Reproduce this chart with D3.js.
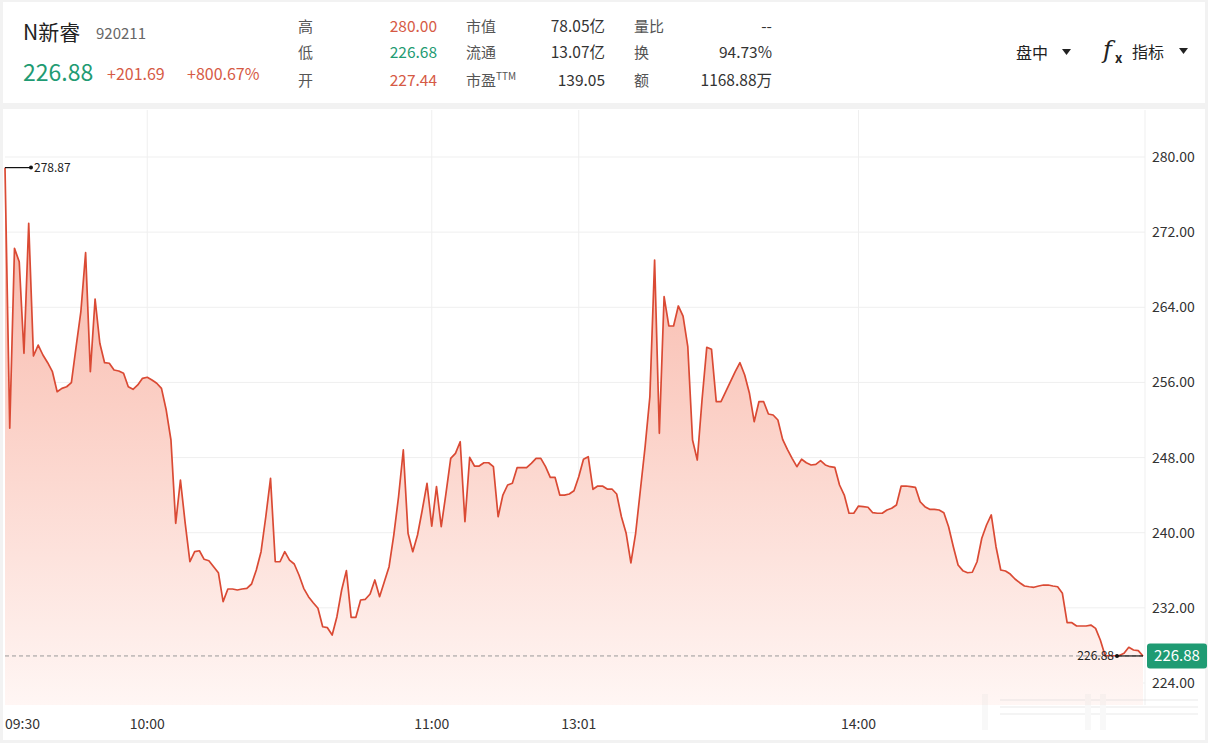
<!DOCTYPE html>
<html><head><meta charset="utf-8">
<script src="https://cdn.jsdelivr.net/npm/d3@7"></script>
<style>body{margin:0;background:#f2f2f2;overflow:hidden}svg{display:block}</style>
</head><body>
<svg id="c" width="1208" height="743"></svg>
<script>
// ---- data ----
const prices = [
278.87,251.12,270.28,268.85,259.10,272.94,258.81,259.98,258.92,258.10,
257.14,255.01,255.37,255.54,255.97,259.80,263.53,269.81,257.14,264.88,
260.17,258.10,258.04,257.32,257.22,256.97,255.54,255.27,255.73,256.44,
256.55,256.26,255.91,255.37,253.06,249.87,241.00,245.61,241.03,236.91,
237.98,238.08,237.17,237.02,236.38,235.74,232.66,234.01,234.01,233.90,
234.01,234.08,234.54,236.03,237.98,241.70,245.79,236.91,236.91,237.98,
237.09,236.67,235.50,234.08,233.19,232.55,231.95,229.99,229.89,229.11,
231.06,233.90,235.96,230.99,230.99,232.84,232.91,233.48,234.97,233.19,
234.78,236.38,239.76,243.83,248.81,239.94,237.98,239.76,242.42,245.26,
240.71,244.90,240.64,244.20,247.92,248.45,249.69,241.17,248.03,247.10,
247.10,247.45,247.45,247.03,241.70,244.01,245.08,245.26,246.92,246.92,
246.92,247.39,247.92,247.92,247.03,245.90,245.90,244.01,244.01,244.12,
244.47,245.96,247.82,248.09,244.62,244.97,244.97,244.65,244.65,244.12,
241.70,239.94,236.78,239.94,244.55,249.16,254.48,269.03,250.58,265.13,
262.01,262.01,264.14,263.07,259.80,249.87,247.74,254.13,259.74,259.53,
253.95,253.95,255.01,256.08,257.14,258.10,256.79,254.84,251.82,253.95,
253.95,252.64,252.53,252.00,249.94,248.88,247.92,247.03,247.82,247.45,
247.21,247.28,247.67,247.21,247.03,246.96,245.08,244.01,242.07,242.07,
242.84,242.77,242.71,242.13,242.07,242.07,242.42,242.60,242.95,244.97,
244.97,244.90,244.83,243.30,242.77,242.49,242.49,242.42,242.13,240.64,
238.51,236.56,235.96,235.74,235.79,236.91,239.41,240.82,241.89,238.51,
236.03,235.92,235.60,235.07,234.68,234.33,234.25,234.19,234.33,234.43,
234.43,234.33,234.25,233.55,230.42,230.42,230.07,230.07,230.07,230.17,
229.82,228.58,226.92,226.90,226.90,226.92,227.16,227.80,227.51,227.44,
226.88
];
const lastPrice = 226.88;
const xTickIndex = [0, 30, 90, 121, 180];
const xTickLabels = ["09:30", "10:00", "11:00", "13:01", "14:00"];
const yTicks = [224, 232, 240, 248, 256, 264, 272, 280];
const stockName = "N新睿";
const stockCode = "920211";
const quote = ["226.88", "+201.69", "+800.67%"];
const col1Labels = ["高", "低", "开"];
const col1Values = ["280.00", "226.68", "227.44"];
const col2Labels = ["市值", "流通", "市盈"];
const col2Values = ["78.05亿", "13.07亿", "139.05"];
const col3Labels = ["量比", "换", "额"];
const col3Values = ["--", "94.73%", "1168.88万"];

// ---- drawing ----
const RED = "#da4a34", GREEN = "#1f9b73", FONT = "'Microsoft YaHei','Noto Sans CJK SC','Noto Sans',sans-serif";
const svg = d3.select("#c").style("font-family", FONT);

svg.append("rect").attr("width", 1208).attr("height", 743).attr("fill", "#f2f2f2");
svg.append("rect").attr("x", 3).attr("y", 2).attr("width", 1202).attr("height", 101).attr("fill", "#fff");
svg.append("rect").attr("x", 3).attr("y", 109).attr("width", 1202).attr("height", 631).attr("fill", "#fff");

// header
const h = svg.append("g");
h.append("text").attr("x", 23).attr("y", 40).attr("font-size", 21).attr("fill", "#222").text(stockName);
h.append("text").attr("x", 96).attr("y", 39).attr("font-size", 15).attr("fill", "#666").text(stockCode);
h.append("text").attr("x", 23).attr("y", 81).attr("font-size", 23).attr("fill", GREEN).text(quote[0]);
h.append("text").attr("x", 107).attr("y", 80).attr("font-size", 16).attr("fill", "#d65a45").text(quote[1]);
h.append("text").attr("x", 187).attr("y", 80).attr("font-size", 16).attr("fill", "#d65a45").text(quote[2]);

const rowsY = [32, 58, 86];
const valColors = ["#d65a45", GREEN, "#d65a45"];
col1Labels.forEach((t, i) => {
  h.append("text").attr("x", 298).attr("y", rowsY[i]).attr("font-size", 15).attr("fill", "#555").text(t);
  h.append("text").attr("x", 437).attr("y", rowsY[i]).attr("font-size", 15.5).attr("text-anchor", "end").attr("fill", valColors[i]).text(col1Values[i]);
});
col2Labels.forEach((t, i) => {
  const tx = h.append("text").attr("x", 466).attr("y", rowsY[i]).attr("font-size", 15).attr("fill", "#555").text(t);
  if (i === 2) tx.append("tspan").attr("font-size", 10).attr("dy", -6).text("TTM");
  h.append("text").attr("x", 605).attr("y", rowsY[i]).attr("font-size", 15.5).attr("text-anchor", "end").attr("fill", "#333").text(col2Values[i]);
});
col3Labels.forEach((t, i) => {
  h.append("text").attr("x", 634).attr("y", rowsY[i]).attr("font-size", 15).attr("fill", "#555").text(t);
  h.append("text").attr("x", 772).attr("y", rowsY[i]).attr("font-size", 15.5).attr("text-anchor", "end").attr("fill", "#333").text(col3Values[i]);
});
h.append("text").attr("x", 1016).attr("y", 59).attr("font-size", 16).attr("fill", "#222").text("盘中");
h.append("path").attr("d", "M1062,49 L1071,49 L1066.5,55 Z").attr("fill", "#222");
h.append("text").attr("x", 1103).attr("y", 58).attr("font-size", 24).attr("font-style", "italic").attr("font-family", "'DejaVu Serif',serif").attr("fill", "#222").text("f");
h.append("text").attr("x", 1115).attr("y", 63).attr("font-size", 13).attr("fill", "#222").attr("font-weight", "bold").text("x");
h.append("text").attr("x", 1132).attr("y", 58).attr("font-size", 16).attr("fill", "#222").text("指标");
h.append("path").attr("d", "M1179,48 L1188,48 L1183.5,54 Z").attr("fill", "#222");

// scales
const x = d3.scaleLinear().domain([0, 240]).range([5, 1143]);
const y = d3.scaleLinear().domain([224, 280]).range([683, 157]);
const baseY = 705, topY = 110;

// gridlines
const g = svg.append("g");
g.selectAll(".hg").data(yTicks).join("line")
  .attr("x1", x(0)).attr("x2", x(240) + 2).attr("y1", d => y(d)).attr("y2", d => y(d))
  .attr("stroke", "#efefef").attr("stroke-width", 1);
g.selectAll(".vg").data(xTickIndex.slice(1).concat([240])).join("line")
  .attr("x1", d => x(d) + (d === 240 ? 2 : 0)).attr("x2", d => x(d) + (d === 240 ? 2 : 0))
  .attr("y1", topY).attr("y2", baseY).attr("stroke", "#efefef").attr("stroke-width", 1);

// gradient
const defs = svg.append("defs");
const grad = defs.append("linearGradient").attr("id", "fillG").attr("gradientUnits", "userSpaceOnUse")
  .attr("x1", 0).attr("x2", 0).attr("y1", 160).attr("y2", baseY);
grad.append("stop").attr("offset", 0).attr("stop-color", "#f7b2a4");
grad.append("stop").attr("offset", 0.45).attr("stop-color", "#fbcfc5");
grad.append("stop").attr("offset", 1).attr("stop-color", "#fff6f4");

const area = d3.area().x((d, i) => x(i)).y0(baseY).y1(d => y(d));
const line = d3.line().x((d, i) => x(i)).y(d => y(d));
svg.append("path").datum(prices).attr("d", area).attr("fill", "url(#fillG)");

// last price dashed line
svg.append("line").attr("x1", x(0)).attr("x2", x(240)).attr("y1", y(lastPrice)).attr("y2", y(lastPrice))
  .attr("stroke", "#9a9a9a").attr("stroke-width", 1).attr("stroke-dasharray", "4,3");

svg.append("path").datum(prices).attr("d", line).attr("fill", "none")
  .attr("stroke", RED).attr("stroke-width", 1.7).attr("stroke-linejoin", "round");

// max / min markers
const maxV = d3.max(prices), minV = d3.min(prices);
const maxI = prices.indexOf(maxV), minI = prices.lastIndexOf(minV);
function marker(i, v) {
  const px = x(i), py = y(v);
  const dir = px > 600 ? -1 : 1;
  const ex = px + dir * 26;
  svg.append("line").attr("x1", px).attr("x2", ex).attr("y1", py).attr("y2", py).attr("stroke", "#111").attr("stroke-width", 1.2);
  svg.append("circle").attr("cx", ex).attr("cy", py).attr("r", 2).attr("fill", "#111");
  svg.append("text").attr("x", ex + dir * 3).attr("y", py + 4).attr("font-size", 12)
    .attr("text-anchor", dir > 0 ? "start" : "end").attr("fill", "#222").text(v.toFixed(2));
}
marker(maxI, maxV);
marker(minI, minV);

// y axis labels
svg.selectAll(".yl").data(yTicks).join("text")
  .attr("x", 1152).attr("y", d => y(d) + 5).attr("font-size", 14).attr("fill", "#333")
  .text(d => d.toFixed(2));

// price tag
const ty = y(lastPrice);
svg.append("rect").attr("x", 1147).attr("y", ty - 12.5).attr("width", 60).attr("height", 25).attr("rx", 3).attr("fill", GREEN);
svg.append("text").attr("x", 1177).attr("y", ty + 5.5).attr("font-size", 15).attr("text-anchor", "middle").attr("fill", "#fff").text(lastPrice.toFixed(2));

// x axis labels
svg.selectAll(".xl").data(xTickIndex).join("text")
  .attr("x", d => x(d))
  .attr("text-anchor", (d, i) => i === 0 ? "start" : "middle")
  .attr("y", 729).attr("font-size", 14).attr("fill", "#333")
  .text((d, i) => xTickLabels[i]);

// faint scroll/zoom widget ghost at bottom right
const w = svg.append("g").attr("opacity", 0.18);
[700, 707, 714].forEach(yy => w.append("line").attr("x1", 1000).attr("x2", 1198).attr("y1", yy).attr("y2", yy).attr("stroke", "#c8c8c8").attr("stroke-width", 2));
[982, 1085, 1100].forEach(xx => w.append("rect").attr("x", xx).attr("y", 694).attr("width", 6).attr("height", 36).attr("fill", "#dcdcdc"));
</script>
</body></html>
